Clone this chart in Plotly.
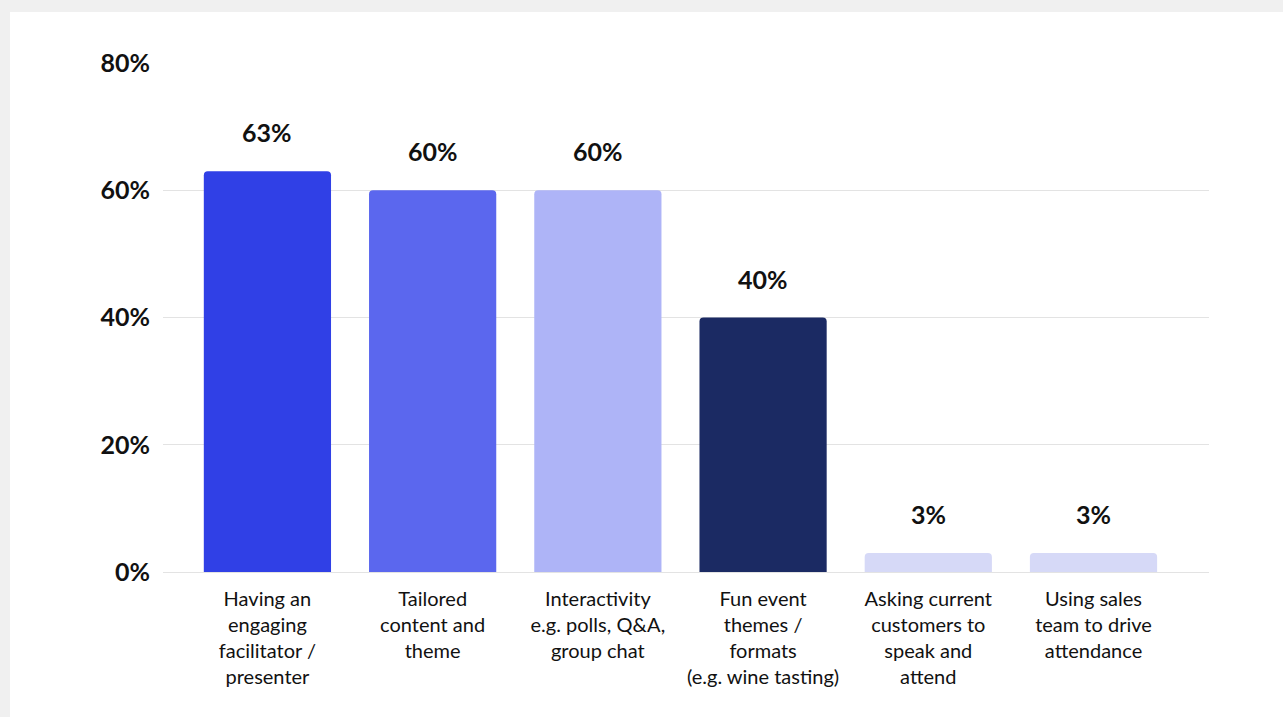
import plotly.graph_objects as go

# Survey results: what drives attendance at virtual events
categories = [
    "Having an<br>engaging<br>facilitator /<br>presenter",
    "Tailored<br>content and<br>theme",
    "Interactivity<br>e.g. polls, Q&A,<br>group chat",
    "Fun event<br>themes /<br>formats<br>(e.g. wine tasting)",
    "Asking current<br>customers to<br>speak and<br>attend",
    "Using sales<br>team to drive<br>attendance",
]
values = [63, 60, 60, 40, 3, 3]
value_labels = ["63%", "60%", "60%", "40%", "3%", "3%"]
bar_colors = ["#3040E6", "#5B67EE", "#AEB4F7", "#1B2A63", "#D6D9F7", "#D6D9F7"]
y_ticks = [0, 20, 40, 60, 80]
y_tick_labels = ["0%", "20%", "40%", "60%", "80%"]

FONT = "Lato"

fig = go.Figure()
fig.add_trace(go.Bar(
    x=list(range(len(categories))),
    y=values,
    marker=dict(color=bar_colors, line=dict(width=0)),
    width=0.77,
    hoverinfo="skip",
))

# value labels above each bar
for i, (v, lab) in enumerate(zip(values, value_labels)):
    fig.add_annotation(
        x=i, y=v, text=f"<b>{lab}</b>", showarrow=False,
        yanchor="bottom", yshift=22,
        font=dict(family=FONT, size=25, color="#111111"),
    )

fig.update_layout(
    width=1283, height=717,
    margin=dict(l=163, r=74, t=63, b=145),
    paper_bgcolor="#F0F0F0",
    plot_bgcolor="rgba(0,0,0,0)",
    barcornerradius=4,
    showlegend=False,
    font=dict(family=FONT, color="#111111"),
    shapes=[dict(
        type="rect", xref="paper", yref="paper",
        x0=-153 / 1046, x1=1.2, y0=-0.5, y1=1 + 51 / 509,
        fillcolor="#FFFFFF", line=dict(width=0), layer="below",
    )],
)

fig.update_xaxes(
    range=[-0.632, 5.699],
    tickmode="array",
    tickvals=list(range(len(categories))),
    ticktext=categories,
    tickfont=dict(family=FONT, size=20, color="#111111"),
    showgrid=False, zeroline=False, showline=False,
    ticks="", ticklabelstandoff=13,
)
fig.update_yaxes(
    range=[0, 80],
    tickmode="array",
    tickvals=y_ticks,
    ticktext=[f"<b>{t}</b>" for t in y_tick_labels],
    tickfont=dict(family=FONT, size=25, color="#111111"),
    showgrid=True, gridcolor="#E3E3E3", gridwidth=1,
    zeroline=True, zerolinecolor="#E3E3E3", zerolinewidth=1,
    showline=False, ticks="", ticklabelstandoff=12,
)

fig.write_html("out.html")
